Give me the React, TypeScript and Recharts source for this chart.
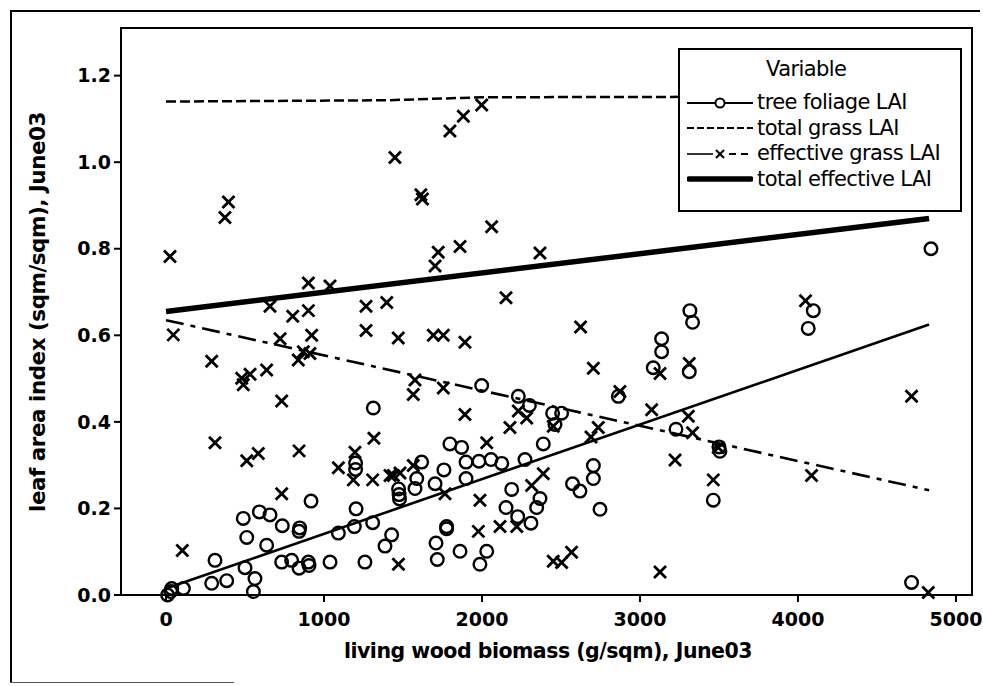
import React from "react"
import { Scatter, ScatterChart, XAxis, YAxis } from "recharts"

const font = "'DejaVu Sans', 'Verdana', sans-serif"

// tree foliage LAI (circles)
const treeFoliage = [
  [10, 0.0], [30, 0.008], [36, 0.015], [110, 0.015], [289, 0.027], [384, 0.033], [310, 0.08],
  [500, 0.063], [563, 0.038], [553, 0.008], [489, 0.177], [511, 0.133], [591, 0.192], [658, 0.185],
  [736, 0.16], [637, 0.115], [732, 0.076], [795, 0.08], [842, 0.062], [901, 0.076], [905, 0.068],
  [842, 0.147], [846, 0.155], [918, 0.217], [1038, 0.076], [1091, 0.143], [1192, 0.158], [1203, 0.199],
  [1308, 0.167], [1259, 0.076], [1200, 0.29], [1200, 0.305], [1428, 0.139], [1386, 0.113], [1312, 0.432],
  [1472, 0.245], [1475, 0.232], [1478, 0.222], [1998, 0.484], [2230, 0.459], [2300, 0.438], [2447, 0.42],
  [2504, 0.42], [2462, 0.394], [2388, 0.349], [1797, 0.349], [1871, 0.341], [1899, 0.307], [1981, 0.309],
  [2057, 0.313], [2125, 0.304], [2272, 0.313], [1899, 0.269], [1759, 0.289], [1703, 0.257], [1618, 0.307],
  [1587, 0.269], [1576, 0.246], [2188, 0.244], [2152, 0.202], [2226, 0.181], [2310, 0.166], [2367, 0.223],
  [2346, 0.202], [2573, 0.257], [2620, 0.24], [2705, 0.299], [2705, 0.269], [2747, 0.198], [1776, 0.158],
  [1776, 0.153], [1709, 0.12], [1717, 0.082], [1861, 0.101], [2030, 0.101], [1987, 0.071], [3316, 0.657],
  [3333, 0.63], [4097, 0.657], [4065, 0.616], [3137, 0.592], [3137, 0.562], [3084, 0.525], [3312, 0.516],
  [2863, 0.459], [3228, 0.383], [3506, 0.332], [3500, 0.342], [3464, 0.219], [4719, 0.029], [4842, 0.8],
]

// effective grass LAI (crosses)
const effectiveGrass = [
  [25, 0.782], [46, 0.601], [103, 0.103], [289, 0.54], [310, 0.352], [373, 0.872], [395, 0.908],
  [479, 0.501], [489, 0.486], [532, 0.51], [511, 0.31], [584, 0.327], [637, 0.52], [658, 0.667],
  [722, 0.592], [732, 0.448], [732, 0.234], [802, 0.644], [837, 0.543], [869, 0.562], [911, 0.558],
  [842, 0.333], [901, 0.721], [901, 0.657], [922, 0.6], [1038, 0.714], [1091, 0.294], [1186, 0.266],
  [1196, 0.33], [1266, 0.667], [1266, 0.611], [1308, 0.266], [1316, 0.362], [1397, 0.676], [1418, 0.276],
  [1439, 0.276], [1449, 1.011], [1470, 0.594], [1471, 0.071], [1481, 0.282], [1565, 0.463], [1576, 0.497],
  [1565, 0.299], [1613, 0.925], [1623, 0.915], [1692, 0.6], [1703, 0.76], [1723, 0.792], [1755, 0.6],
  [1755, 0.478], [1766, 0.234], [1797, 1.072], [1861, 0.805], [1882, 1.106], [1892, 0.584], [1892, 0.417],
  [1977, 0.147], [1987, 0.219], [1998, 1.132], [2030, 0.352], [2061, 0.851], [2114, 0.158], [2152, 0.687],
  [2177, 0.387], [2220, 0.158], [2230, 0.425], [2283, 0.409], [2314, 0.253], [2367, 0.79], [2388, 0.28],
  [2451, 0.39], [2451, 0.078], [2504, 0.075], [2567, 0.099], [2624, 0.619], [2690, 0.365], [2705, 0.524],
  [2736, 0.387], [2873, 0.47], [3074, 0.428], [3127, 0.512], [3127, 0.053], [3222, 0.312], [3306, 0.413],
  [3312, 0.535], [3333, 0.375], [3464, 0.266], [3496, 0.341], [4048, 0.68], [4086, 0.276], [4719, 0.459],
  [4825, 0.006],
]

// fitted lines, read at their ends (and the small kink in total grass)
const treeFit = [[0, 0.015], [4830, 0.625]]
const totalGrassFit = [[0, 1.14], [1400, 1.143], [2000, 1.15], [4830, 1.152]]
const effGrassFit = [[0, 0.635], [4830, 0.242]]
const totalEffFit = [[0, 0.655], [4830, 0.87]]

const xTicks = [0, 1000, 2000, 3000, 4000, 5000]
const yTicks = [0, 0.2, 0.4, 0.6, 0.8, 1.0, 1.2]

const legendItems = ["tree foliage LAI", "total grass LAI", "effective grass LAI", "total effective LAI"]

const toPts = (arr: number[][]) => arr.map(([x, y]) => ({ x, y }))

const Circle = (props: any) => (
  <circle cx={props.cx} cy={props.cy} r={6.3} fill="none" stroke="#000" strokeWidth={2.4} />
)

const Cross = (props: any) => {
  const { cx, cy } = props
  const s = 6
  return (
    <g stroke="#000" strokeWidth={2.8}>
      <line x1={cx - s} y1={cy - s} x2={cx + s} y2={cy + s} />
      <line x1={cx - s} y1={cy + s} x2={cx + s} y2={cy - s} />
    </g>
  )
}

const NoDot = () => <g />

function LegendSample({ i }: { i: number }) {
  if (i === 0)
    return (
      <svg width={66} height={14}>
        <line x1={0} y1={7} x2={66} y2={7} stroke="#000" strokeWidth={2.2} />
        <circle cx={33} cy={7} r={4.5} fill="#fff" stroke="#000" strokeWidth={2} />
      </svg>
    )
  if (i === 1)
    return (
      <svg width={66} height={14}>
        <line x1={0} y1={7} x2={66} y2={7} stroke="#000" strokeWidth={2.2} strokeDasharray="7 3" />
      </svg>
    )
  if (i === 2)
    return (
      <svg width={66} height={14}>
        <line x1={0} y1={7} x2={26} y2={7} stroke="#000" strokeWidth={1.6} />
        <line x1={29} y1={3} x2={37} y2={11} stroke="#000" strokeWidth={2.2} />
        <line x1={29} y1={11} x2={37} y2={3} stroke="#000" strokeWidth={2.2} />
        <line x1={42} y1={7} x2={66} y2={7} stroke="#000" strokeWidth={2.2} strokeDasharray="7 5" />
      </svg>
    )
  return (
    <svg width={66} height={14}>
      <line x1={2} y1={7} x2={64} y2={7} stroke="#000" strokeWidth={5.5} strokeLinecap="round" />
    </svg>
  )
}

export default function App() {
  return (
    <div style={{ position: "absolute", left: 0, top: 0, width: 983, height: 686, background: "#fff", fontFamily: font }}>
      <ScatterChart width={983} height={686} margin={{ top: 28, right: 10, bottom: 0, left: 0 }}>
        <XAxis
          type="number"
          dataKey="x"
          domain={[-285, 5108]}
          ticks={xTicks}
          height={91}
          tickSize={7}
          tickMargin={11}
          axisLine={false}
          tickLine={{ stroke: "#000", strokeWidth: 2 }}
          tick={{ fill: "#000", fontSize: 19, fontWeight: "bold", fontFamily: font }}
        />
        <YAxis
          type="number"
          dataKey="y"
          domain={[0, 1.31]}
          ticks={yTicks}
          width={121}
          tickSize={7}
          tickMargin={3}
          axisLine={false}
          tickLine={{ stroke: "#000", strokeWidth: 2 }}
          tickFormatter={(v: number) => v.toFixed(1)}
          tick={{ fill: "#000", fontSize: 19, fontWeight: "bold", fontFamily: font }}
        />
        <Scatter data={toPts(totalGrassFit)} line={{ stroke: "#000", strokeWidth: 2.5, strokeDasharray: "10 4" }} shape={NoDot} isAnimationActive={false} />
        <Scatter data={toPts(effGrassFit)} line={{ stroke: "#000", strokeWidth: 2.6, strokeDasharray: "18 7 5 7" }} shape={NoDot} isAnimationActive={false} />
        <Scatter data={toPts(treeFit)} line={{ stroke: "#000", strokeWidth: 2.6 }} shape={NoDot} isAnimationActive={false} />
        <Scatter data={toPts(totalEffFit)} line={{ stroke: "#000", strokeWidth: 5.5 }} shape={NoDot} isAnimationActive={false} />
        <Scatter data={toPts(treeFoliage)} shape={Circle} isAnimationActive={false} />
        <Scatter data={toPts(effectiveGrass)} shape={Cross} isAnimationActive={false} />
      </ScatterChart>

      {/* plot frame */}
      <div style={{ position: "absolute", left: 120, top: 27, width: 853, height: 569, border: "2.5px solid #000", boxSizing: "border-box", pointerEvents: "none" }} />
      {/* outer figure frame */}
      <div style={{ position: "absolute", left: 10, top: 10, width: 970, height: 673, borderLeft: "2px solid #000", borderTop: "2px solid #000", boxSizing: "border-box" }} />
      <div style={{ position: "absolute", left: 10, top: 682, width: 224, height: 0, borderTop: "1.5px solid #555" }} />

      {/* legend */}
      <div style={{ position: "absolute", left: 678, top: 48, width: 284, height: 164, border: "2.5px solid #000", boxSizing: "border-box", background: "#fff", fontSize: 21, color: "#000", letterSpacing: -0.6 }}>
        <div style={{ position: "absolute", left: 86, top: 6, lineHeight: "26px" }}>Variable</div>
        {legendItems.map((t, i) => (
          <div key={t} style={{ position: "absolute", left: 7, top: 40 + i * 25.5, display: "flex", alignItems: "center", lineHeight: "25px", whiteSpace: "nowrap" }}>
            <LegendSample i={i} />
            <span style={{ marginLeft: 4 }}>{t}</span>
          </div>
        ))}
      </div>

      {/* axis titles */}
      <div style={{ position: "absolute", left: 548, top: 651, transform: "translate(-50%, -50%)", fontSize: 20.5, fontWeight: "bold", whiteSpace: "nowrap", letterSpacing: -0.5 }}>
        living wood biomass (g/sqm), June03
      </div>
      <div style={{ position: "absolute", left: 37, top: 312, transform: "translate(-50%, -50%) rotate(-90deg)", fontSize: 21.5, fontWeight: "bold", whiteSpace: "nowrap", letterSpacing: -0.5 }}>
        leaf area index (sqm/sqm), June03
      </div>
    </div>
  )
}
